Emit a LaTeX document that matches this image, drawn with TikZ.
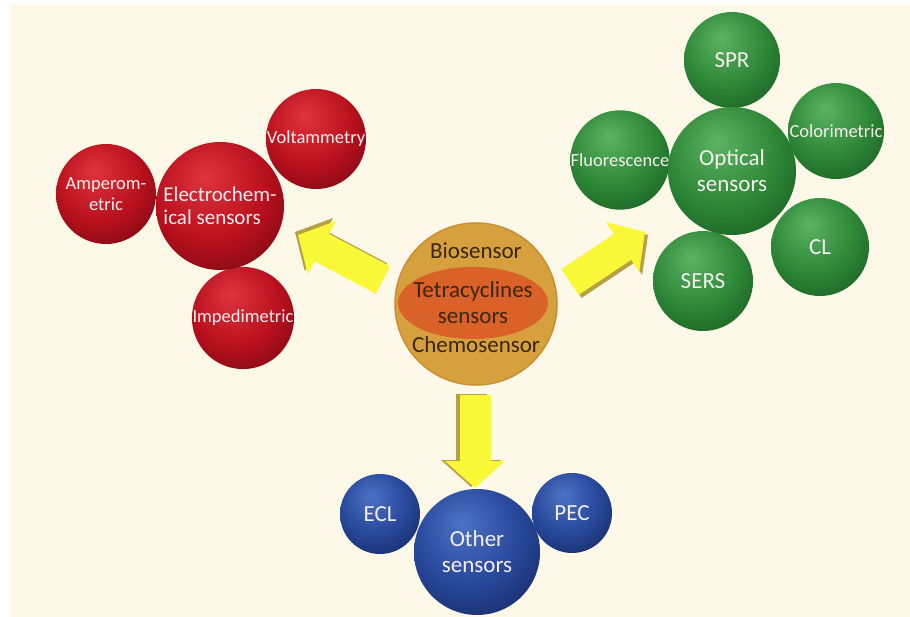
\documentclass[tikz,border=0pt]{standalone}
\usepackage{fontspec}
\setmainfont{Carlito}
\usetikzlibrary{arrows.meta}
\usetikzlibrary{shapes}

\definecolor{paper}{HTML}{FDF8E8}
\definecolor{redhi}{HTML}{DE3440}
\definecolor{redbase}{HTML}{B8101C}
\definecolor{reddark}{HTML}{560610}
\definecolor{greenhi}{HTML}{5CB462}
\definecolor{greenbase}{HTML}{2C8636}
\definecolor{greendark}{HTML}{114616}
\definecolor{bluehi}{HTML}{4C72C4}
\definecolor{bluebase}{HTML}{264698}
\definecolor{bluedark}{HTML}{0E1A46}
\definecolor{tcgold}{HTML}{D6A03E}
\definecolor{tcrim}{HTML}{C98E30}
\definecolor{tcred}{HTML}{DA6128}
\definecolor{tctext}{HTML}{3A2608}
\definecolor{arrowfill}{HTML}{F8F838}
\definecolor{arrowshade}{HTML}{B8A044}
\definecolor{balltext}{HTML}{F4EEEE}

\pgfdeclareradialshading{redsphere}{\pgfpoint{-6bp}{12bp}}{color(0bp)=(redhi); color(22bp)=(redbase); color(46bp)=(reddark); color(66bp)=(reddark)}
\pgfdeclareradialshading{greensphere}{\pgfpoint{-6bp}{12bp}}{color(0bp)=(greenhi); color(22bp)=(greenbase); color(46bp)=(greendark); color(66bp)=(greendark)}
\pgfdeclareradialshading{bluesphere}{\pgfpoint{-6bp}{12bp}}{color(0bp)=(bluehi); color(22bp)=(bluebase); color(46bp)=(bluedark); color(66bp)=(bluedark)}

\tikzset{
  ball/.style={circle, inner sep=0pt, align=center, text=balltext, shade},
  redball/.style={ball, shading=redsphere},
  greenball/.style={ball, shading=greensphere},
  blueball/.style={ball, shading=bluesphere},
  fatarrow/.style={line width=31pt, -{Triangle[width=60pt,length=27pt,line width=0pt]}},
}

\begin{document}
\begin{tikzpicture}[x=1pt, y=-1pt]
  \newcommand{\bigtxt}{\fontsize{23}{26}\selectfont}
  \newcommand{\midtxt}{\fontsize{21}{23}\selectfont}
  \newcommand{\smltxt}{\fontsize{18.5}{21.5}\selectfont}
  \useasboundingbox (0,0) rectangle (910,617);
  \fill[paper] (10,5) rectangle (910,617);

% the middle sphere
  \node[circle, fill=tcgold, draw=tcrim, line width=1.5pt, minimum size=162pt] (tc) at (476,304) {};
  \node[ellipse, fill=tcred, minimum width=150pt, minimum height=72pt, inner sep=0pt] (ring) at (473,303) {};
  \node[text=tctext, font=\bigtxt, align=center] (tetra) at (ring) {Tetracyclines\\sensors};
  \node[text=tctext, font=\bigtxt] (bio) at (476,251) {Biosensor};
  \node[text=tctext, font=\bigtxt] (chemo) at (476,345) {Chemosensor};

% arrows out of the middle
  \coordinate (lt) at (383,280);
  \coordinate (lh) at (298,235);
  \coordinate (rt) at (570,282);
  \coordinate (rh) at (645,232);
  \coordinate (dt) at (475,395);
  \coordinate (dh) at (475,488);
  \draw[fatarrow, draw=arrowshade, transform canvas={shift={(-3pt,3pt)}}] (lt) -- (lh);
  \draw[fatarrow, draw=arrowfill] (lt) -- (lh);
  \draw[fatarrow, draw=arrowshade, transform canvas={shift={(3pt,-3pt)}}] (rt) -- (rh);
  \draw[fatarrow, draw=arrowfill] (rt) -- (rh);
  \draw[fatarrow, draw=arrowshade, transform canvas={shift={(-4pt,1pt)}}] (dt) -- (dh);
  \draw[fatarrow, draw=arrowfill] (dt) -- (dh);

% electrochemical group
  \foreach \n/\x/\y/\r/\t in {amp/106/194/50/{Amperom-\\etric},volt/316/139/50/Voltammetry,imp/243/318/51/Impedimetric}{
    \node[redball, minimum size={2*\r pt}, font=\smltxt] (\n) at (\x,\y) {\t};
  }
  \node[redball, minimum size=128pt, font=\midtxt, align=left] (elec) at (220,206) {Electrochem-\\ical sensors};

% optical group
  \foreach \n/\x/\y/\r/\t in {fluo/620/160/48/Fluorescence,colo/836/131/48/Colorimetric}{
    \node[greenball, minimum size={2*\r pt}, font=\smltxt] (\n) at (\x,\y) {\t};
  }
  \foreach \n/\x/\y/\r/\t in {spr/732/60/48/SPR,cl/820/247/49/CL,sers/703/281/50/SERS}{
    \node[greenball, minimum size={2*\r pt}, font=\bigtxt] (\n) at (\x,\y) {\t};
  }
  \node[greenball, minimum size=128pt, font=\bigtxt] (opt) at (732,171) {Optical\\sensors};

% other group
  \foreach \n/\x/\y/\t in {ecl/380/514/ECL,pec/572/513/PEC}{
    \node[blueball, minimum size=80pt, font=\bigtxt] (\n) at (\x,\y) {\t};
  }
  \node[blueball, minimum size=126pt, font=\bigtxt] (other) at (477,552) {Other\\sensors};

\end{tikzpicture}
\end{document}
